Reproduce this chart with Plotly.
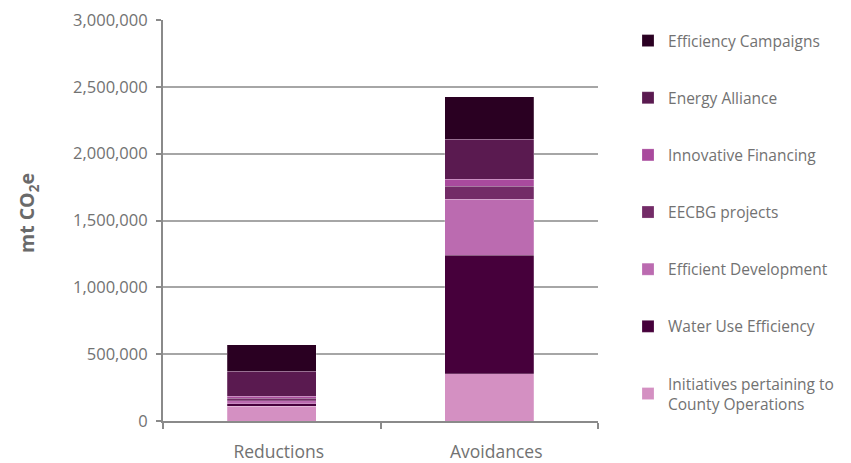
import plotly.graph_objects as go

categories = ["Reductions", "Avoidances"]

# Stack order from bottom to top
series_names = [
    "Initiatives pertaining to<br>County Operations",
    "Water Use Efficiency",
    "Efficient Development",
    "EECBG projects",
    "Innovative Financing",
    "Energy Alliance",
    "Efficiency Campaigns",
]
series_values = [
    [110000, 355000],
    [20000, 886000],
    [22000, 417000],
    [20000, 100000],
    [13000, 50000],
    [188000, 300000],
    [197000, 319000],
]
series_colors = [
    "#d490c2",
    "#46003b",
    "#bb6bb0",
    "#732b67",
    "#a94a9d",
    "#5a1a50",
    "#2a0022",
]

y_ticks = [0, 500000, 1000000, 1500000, 2000000, 2500000, 3000000]
y_tick_labels = ["0", "500,000", "1,000,000", "1,500,000", "2,000,000", "2,500,000", "3,000,000"]

font_family = "Open Sans, Noto Sans, sans-serif"
grey = "#727272"

fig = go.Figure()
n = len(series_names)
for i, (name, vals, col) in enumerate(zip(series_names, series_values, series_colors)):
    fig.add_trace(go.Bar(
        x=categories,
        y=vals,
        name=name,
        legendgroup=f"g{i}",
        legendrank=n - i,  # top segment listed first
        marker=dict(color=col, line=dict(width=0.6, color="rgba(255,255,255,0.35)")),
        width=0.41,
    ))

fig.update_layout(
    barmode="stack",
    width=851,
    height=463,
    margin=dict(l=163, r=251, t=20, b=42),
    paper_bgcolor="white",
    plot_bgcolor="white",
    font=dict(family=font_family, color=grey, size=15),
    legend=dict(
        traceorder="grouped",
        tracegroupgap=34,
        x=1.069,
        xanchor="left",
        y=0.99,
        yanchor="top",
        font=dict(size=15.5, color=grey),
        itemwidth=30,
        maxheight=463,
    ),
    showlegend=True,
)

# y-axis title placed as a rotated annotation left of the tick labels
fig.add_annotation(
    text="mt CO<sub>2</sub>e",
    textangle=-90,
    xref="paper", yref="paper",
    x=-0.311, y=0.518,
    xanchor="center", yanchor="middle",
    showarrow=False,
    font=dict(size=19.5, color="#6a6a6a", family="Open Sans, sans-serif", weight="bold"),
)

fig.update_yaxes(
    range=[0, 3000000],
    tickvals=y_ticks,
    ticktext=y_tick_labels,
    showgrid=True,
    gridcolor="#a6a6a6",
    gridwidth=1.5,
    showline=True,
    linecolor="#8a8a8a",
    linewidth=2,
    ticks="outside",
    ticklen=5,
    tickcolor="#8a8a8a",
    tickwidth=1.5,
    ticklabelstandoff=5,
    tickfont=dict(size=16.5, color=grey),
    zeroline=False,
    automargin=False,
)

fig.update_xaxes(
    showline=True,
    linecolor="#8a8a8a",
    linewidth=2,
    ticks="outside",
    tickson="boundaries",
    ticklen=6,
    tickcolor="#8a8a8a",
    tickwidth=1.5,
    ticklabelstandoff=14,
    ticklabelshift=7,
    tickfont=dict(size=17.5, color=grey),
    automargin=False,
)

fig.write_html("out.html")
